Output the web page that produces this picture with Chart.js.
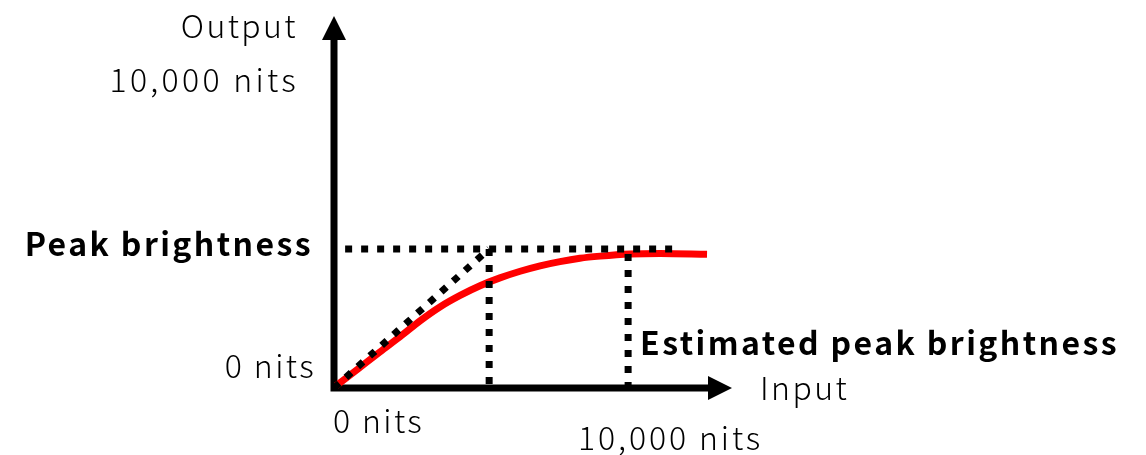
<!DOCTYPE html>
<html>
<head>
<meta charset="utf-8">
<style>
  html, body { margin: 0; padding: 0; background: #ffffff; }
  #wrap { width: 1146px; height: 455px; }
</style>
<script src="https://cdn.jsdelivr.net/npm/chart.js@4/dist/chart.umd.min.js"></script>
</head>
<body>
<div id="wrap"><canvas id="toneMap" width="1146" height="455"></canvas></div>
<script>
// Tone-mapping curve: input luminance (nits) vs. displayed output (nits)
const inputNits  = [60, 710, 1360, 2020, 2550, 3140, 3740, 4330, 4920, 5520, 6110, 6700, 7290, 7890, 8780, 9670, 11060];
const outputNits = [70, 630, 1190, 1750, 2220, 2680, 3060, 3380, 3640, 3860, 4040, 4180, 4290, 4360, 4430, 4450, 4420];

// Reference levels
const peakBrightness = 4600;       // display peak
const estimatedPeakInput = 8720;   // input where the curve reaches its plateau
const estimatedPeakOutput = 4430;
const maxNits = 10000;

// Axis extents (arrow tips)
const xAxisEnd = 11800;
const yAxisEnd = 12300;

// Text labels
const yAxisTitle = 'Output';
const xAxisTitle = 'Input';
const yTickLabels = ['0 nits', '10,000 nits'];
const xTickLabels = ['0 nits', '10,000 nits'];
const peakLabel = 'Peak brightness';
const estimatedLabel = 'Estimated peak brightness';

const curve = inputNits.map((x, i) => ({ x, y: outputNits[i] }));

const FONT = '"Noto Sans CJK JP", "Noto Sans", sans-serif';

const dotted = {
  borderColor: '#000000',
  borderWidth: 7,
  borderDash: [7, 9],
  borderCapStyle: 'butt',
  pointRadius: 0,
  fill: false,
  tension: 0
};

// Axes with arrowheads and the annotation text, placed via the chart's scales
const diagramPlugin = {
  id: 'diagram',
  beforeDatasetsDraw(chart) {
    const { ctx, scales: { x, y } } = chart;
    const x0 = x.getPixelForValue(0), y0 = y.getPixelForValue(0);
    const xTip = x.getPixelForValue(xAxisEnd), yT = y.getPixelForValue(yAxisEnd);
    const head = 24, half = 12;
    ctx.save();
    ctx.strokeStyle = '#000'; ctx.fillStyle = '#000';
    ctx.lineWidth = 7; ctx.lineCap = 'butt';
    ctx.beginPath();
    ctx.moveTo(x0, y0 + 3.5); ctx.lineTo(x0, yT + head - 1);
    ctx.moveTo(x0 - 3.5, y0); ctx.lineTo(xTip - head + 1, y0);
    ctx.stroke();
    ctx.beginPath();
    ctx.moveTo(x0, yT); ctx.lineTo(x0 - half, yT + head); ctx.lineTo(x0 + half, yT + head); ctx.closePath();
    ctx.moveTo(xTip, y0); ctx.lineTo(xTip - head, y0 - half); ctx.lineTo(xTip - head, y0 + half); ctx.closePath();
    ctx.fill();
    ctx.restore();
  },
  afterDatasetsDraw(chart) {
    const { ctx, scales: { x, y } } = chart;
    const x0 = x.getPixelForValue(0), y0 = y.getPixelForValue(0);
    const yT = y.getPixelForValue(yAxisEnd);
    const yPeak = y.getPixelForValue(peakBrightness);
    const yMax = y.getPixelForValue(maxNits);
    const xEst = x.getPixelForValue(estimatedPeakInput);
    const regular = '300 32px ' + FONT;
    const bold = 'bold 32px ' + FONT;
    ctx.save();
    ctx.fillStyle = '#000';
    ctx.textBaseline = 'alphabetic';
    ctx.letterSpacing = '2.4px';
    ctx.font = regular;
    ctx.textAlign = 'right';
    ctx.fillText(yAxisTitle, x0 - 36, yT + 22);
    ctx.fillText(yTickLabels[0], x0 - 18, y0 - 10);
    ctx.letterSpacing = '3.3px';
    ctx.fillText(yTickLabels[1], x0 - 35, yMax + 6);
    ctx.letterSpacing = '2.4px';
    ctx.font = bold;
    ctx.fillText(peakLabel, x0 - 21, yPeak + 7);
    ctx.textAlign = 'left';
    ctx.font = regular;
    ctx.fillText(xTickLabels[0], x0 - 1, y0 + 45);
    ctx.fillText(xAxisTitle, 760, y0 + 12);
    ctx.letterSpacing = '2.9px';
    ctx.fillText(xTickLabels[1], 578, y0 + 62);
    ctx.letterSpacing = '2.4px';
    ctx.font = bold;
    ctx.fillText(estimatedLabel, xEst + 12, y0 - 33);
    ctx.restore();
  }
};

new Chart(document.getElementById('toneMap'), {
  type: 'scatter',
  data: {
    datasets: [
      { ...dotted, label: 'peak level', showLine: true,
        data: [{ x: 330, y: peakBrightness }, { x: 10080, y: peakBrightness }] },
      { ...dotted, label: 'linear', showLine: true,
        data: [{ x: 0, y: 0 }, { x: peakBrightness, y: peakBrightness }] },
      { ...dotted, label: 'knee', showLine: true,
        data: [{ x: peakBrightness, y: peakBrightness }, { x: peakBrightness, y: 0 }] },
      { ...dotted, label: 'estimated peak', showLine: true,
        data: [{ x: estimatedPeakInput, y: estimatedPeakOutput }, { x: estimatedPeakInput, y: 0 }] },
      { label: 'tone curve', showLine: true, data: curve,
        borderColor: '#ff0000', borderWidth: 7, borderCapStyle: 'butt',
        pointRadius: 0, cubicInterpolationMode: 'monotone', fill: false }
    ]
  },
  options: {
    responsive: false,
    animation: false,
    devicePixelRatio: 1,
    layout: { padding: { left: 334, right: 414, top: 16, bottom: 67 } },
    clip: false,
    plugins: { legend: { display: false }, tooltip: { enabled: false } },
    scales: {
      x: { type: 'linear', display: false, min: 0, max: xAxisEnd },
      y: { type: 'linear', display: false, min: 0, max: yAxisEnd }
    }
  },
  plugins: [diagramPlugin]
});
</script>
</body>
</html>
